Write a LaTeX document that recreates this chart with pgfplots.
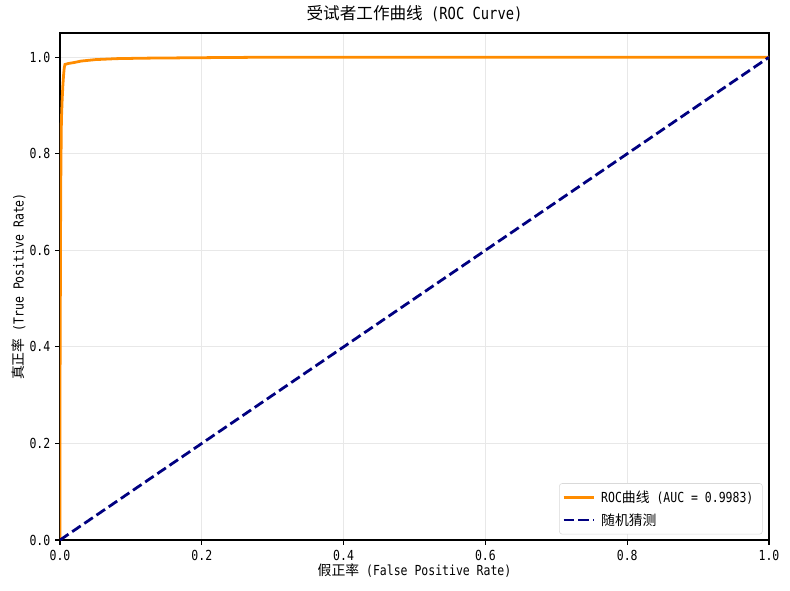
\documentclass[border=0pt]{standalone}
\usepackage{fontspec}
\setmainfont{DejaVu Sans Mono}[FakeStretch=0.83]
\newfontfamily\cjk{Noto Sans CJK SC}
\usepackage{pgfplots}
\pgfplotsset{compat=1.18}
\usetikzlibrary{calc}
\definecolor{darkorange}{RGB}{255,140,0}
\definecolor{navyc}{RGB}{0,0,128}
\begin{document}
\begin{tikzpicture}
\begin{axis}[
  scale only axis,
  width=510.5bp, height=365bp,
  xmin=0, xmax=1, ymin=0, ymax=1.05,
  xtick={0,0.2,0.4,0.6,0.8,1.0},
  ytick={0,0.2,0.4,0.6,0.8,1.0},
  xticklabel style={/pgf/number format/.cd,fixed,fixed zerofill,precision=1,assume math mode=true},
  yticklabel style={/pgf/number format/.cd,fixed,fixed zerofill,precision=1,assume math mode=true},
  ticklabel style={font=\fontsize{10}{12}\selectfont},
  tick align=outside, tick pos=left,
  major tick length=3.5bp,
  grid=major,
  grid style={gray!18, line width=0.8bp},
  axis line style={line width=0.8bp},
  every tick/.style={black, line width=0.8bp},
  title={{\cjk 受试者工作曲线} (ROC Curve)},
  title style={font=\fontsize{12}{14}\selectfont, yshift=-1bp},
  xlabel={{\cjk 假正率} (False Positive Rate)},
  ylabel={{\cjk 真正率} (True Positive Rate)},
  label style={font=\fontsize{10}{12}\selectfont},
  xlabel style={yshift=4bp},
  ylabel style={yshift=-4bp},
  legend style={at={(0.991,0.011)}, anchor=south east,
    font=\fontsize{10}{12}\selectfont, draw=gray!30, rounded corners=2bp,
    inner xsep=2bp, inner ysep=3bp, row sep=1.5bp,
    nodes={text height=9bp, text depth=1.5bp, inner xsep=4.5bp}},
  legend cell align=left,
  legend image code/.code={\draw[#1] (0cm,0cm) -- (21.6bp,0cm);},
]
\addplot[darkorange, line width=2bp] coordinates {
(0,0) (0,0.3) (0.0005,0.5) (0.001,0.72) (0.0015,0.8) (0.002,0.87) (0.003,0.91)
(0.004,0.94) (0.005,0.962) (0.006,0.978) (0.007,0.985) (0.012,0.987) (0.02,0.989)
(0.03,0.992) (0.05,0.995) (0.08,0.997) (0.12,0.998) (0.2,0.999) (0.3,1.0) (1,1)
};
\addlegendentry{ROC{\cjk 曲线} (AUC = 0.9983)}
\addplot[navyc, line width=2bp, dash pattern=on 7.4bp off 3.2bp] coordinates {(0,0) (1,1)};
\addlegendentry{{\cjk 随机猜测}}
\end{axis}
\pgfresetboundingbox
\path[use as bounding box] ($(current axis.south west)+(-43.2bp,-36bp)$) rectangle ($(current axis.north east)+(15.1bp,23.8bp)$);
\end{tikzpicture}
\end{document}
